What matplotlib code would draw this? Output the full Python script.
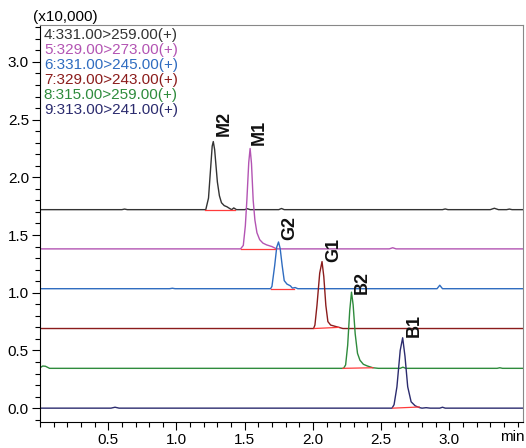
import numpy as np
import matplotlib.pyplot as plt
from matplotlib.ticker import MultipleLocator

plt.rcParams['font.family'] = ['Liberation Sans', 'DejaVu Sans']

# channel names, colours and baseline offsets (x10,000)
channels = ['4:331.00>259.00(+)', '5:329.00>273.00(+)', '6:331.00>245.00(+)',
            '7:329.00>243.00(+)', '8:315.00>259.00(+)', '9:313.00>241.00(+)']
colors = ['#333333', '#b354b3', '#2f6cc0', '#8b1c1c', '#2e8b3c', '#2b2b6e']
offsets = [1.72, 1.38, 1.035, 0.69, 0.345, 0.0]

# traces: (time min, signal above baseline)
trace4 = [(0.00, 0), (0.60, 0), (0.62, 0.005), (0.64, 0), (1.20, 0), (1.215, 0),
          (1.235, 0.10), (1.25, 0.35), (1.262, 0.55), (1.27, 0.59), (1.28, 0.52),
          (1.29, 0.38), (1.30, 0.24), (1.315, 0.12), (1.33, 0.06), (1.35, 0.035),
          (1.37, 0.025), (1.39, 0.01), (1.405, 0.0), (1.42, 0.015), (1.44, 0.0),
          (1.50, 0), (1.52, 0.008), (1.54, 0), (1.75, 0), (1.77, 0.01), (1.79, 0),
          (2.95, 0), (2.97, 0.006), (2.99, 0), (3.30, 0), (3.33, 0.012), (3.36, 0),
          (3.42, 0), (3.44, 0.005), (3.46, 0), (3.54, 0)]
trace5 = [(0.00, 0), (1.47, 0), (1.49, 0.03), (1.505, 0.2), (1.516, 0.42),
          (1.53, 0.75), (1.54, 0.87), (1.55, 0.74), (1.5625, 0.42), (1.575, 0.25),
          (1.59, 0.14), (1.61, 0.08), (1.634, 0.05), (1.66, 0.035), (1.70, 0.02),
          (1.725, 0.005), (1.74, 0), (2.56, 0), (2.585, 0.01), (2.61, 0), (3.54, 0)]
trace6 = [(0.00, 0), (0.95, 0), (0.97, 0.004), (0.99, 0), (1.69, 0), (1.70, 0.02),
          (1.72, 0.2), (1.735, 0.36), (1.748, 0.405), (1.76, 0.35), (1.775, 0.2),
          (1.79, 0.07), (1.81, 0.04), (1.835, 0.025), (1.85, 0.005), (1.87, 0.01),
          (1.89, 0), (2.91, 0), (2.93, 0.03), (2.95, 0), (3.54, 0)]
trace7 = [(0.00, 0), (2.005, 0), (2.015, 0.03), (2.03, 0.2), (2.05, 0.48),
          (2.067, 0.58), (2.08, 0.45), (2.095, 0.2), (2.11, 0.06), (2.13, 0.03),
          (2.16, 0.02), (2.19, 0.01), (2.22, 0), (3.54, 0)]
trace8 = [(0.00, 0.005), (0.02, 0.02), (0.04, 0.018), (0.07, 0), (2.225, 0),
          (2.24, 0.03), (2.255, 0.2), (2.27, 0.5), (2.283, 0.66), (2.295, 0.55),
          (2.31, 0.3), (2.327, 0.13), (2.345, 0.07), (2.37, 0.035), (2.40, 0.02),
          (2.44, 0.005), (2.48, 0), (2.64, 0), (2.66, 0.01), (2.68, 0), (3.35, 0),
          (3.37, 0.005), (3.39, 0), (3.54, 0)]
trace9 = [(0.00, 0), (0.52, 0), (0.55, 0.008), (0.58, 0), (2.58, 0), (2.595, 0.03),
          (2.616, 0.185), (2.64, 0.5), (2.658, 0.61), (2.675, 0.45), (2.695, 0.185),
          (2.72, 0.055), (2.75, 0.02), (2.78, 0.005), (2.80, 0), (2.83, 0.004),
          (2.86, 0), (2.93, 0), (2.95, 0.008), (2.97, 0), (3.54, 0)]
traces = [trace4, trace5, trace6, trace7, trace8, trace9]

# peak integration baselines: (channel index, t0, h0, t1, h1)
integrations = [(0, 1.21, 0, 1.43, 0), (1, 1.475, 0, 1.725, 0), (2, 1.69, 0, 1.86, 0),
                (3, 2.01, 0, 2.19, 0.01), (4, 2.22, 0, 2.44, 0.005), (5, 2.585, 0, 2.78, 0.01)]

# peak labels
peak_names = ['M2', 'M1', 'G2', 'G1', 'B2', 'B1']
label_x = [1.35, 1.61, 1.83, 2.15, 2.36, 2.74]
label_y = [2.47, 2.39, 1.56, 1.37, 1.09, 0.72]

fig = plt.figure(figsize=(5.26, 4.48), dpi=100)
ax = fig.add_axes([40 / 526, 26 / 448, 483 / 526, 397 / 448])

for tr, off, c in zip(traces, offsets, colors):
    arr = np.array(tr)
    ax.plot(arr[:, 0], arr[:, 1] + off, color=c, lw=1.0)

for i, t0, h0, t1, h1 in integrations:
    ax.plot([t0, t1], [h0 + offsets[i], h1 + offsets[i]], color='#ff3b3b', lw=0.9)

for name, x, y in zip(peak_names, label_x, label_y):
    ax.text(x, y, name, rotation=90, ha='center', va='center',
            fontsize=13, fontweight='bold', color='#111111')

for k, (name, c) in enumerate(zip(channels, colors)):
    ax.text(0.008, (422 - 35 - 15 * k) / 397, name, transform=ax.transAxes,
            color=c, fontsize=11, va='center', ha='left')

ax.set_xlim(0, 3.54)
ax.set_ylim(-0.12, 3.32)
ax.xaxis.set_minor_locator(MultipleLocator(0.1))
ax.yaxis.set_minor_locator(MultipleLocator(0.1))
ax.set_xticks([0.5, 1.0, 1.5, 2.0, 2.5, 3.0])
ax.tick_params(which='major', direction='out', length=6, width=0.8, labelsize=11, pad=2)
ax.tick_params(which='minor', direction='out', length=3.5, width=0.8)
ax.set_yticks([0.0, 0.5, 1.0, 1.5, 2.0, 2.5, 3.0])
ax.set_yticklabels(['0.0', '0.5', '1.0', '1.5', '2.0', '2.5', '3.0'])
for s in ['top', 'right']:
    ax.spines[s].set_color('#888888')
ax.text(3.37, -0.25, 'min', fontsize=11, ha='left', va='center')
fig.text(33 / 526, 1 - 17 / 448, '(x10,000)', fontsize=11, ha='left', va='center')

fig.savefig('out.png', dpi=100)
